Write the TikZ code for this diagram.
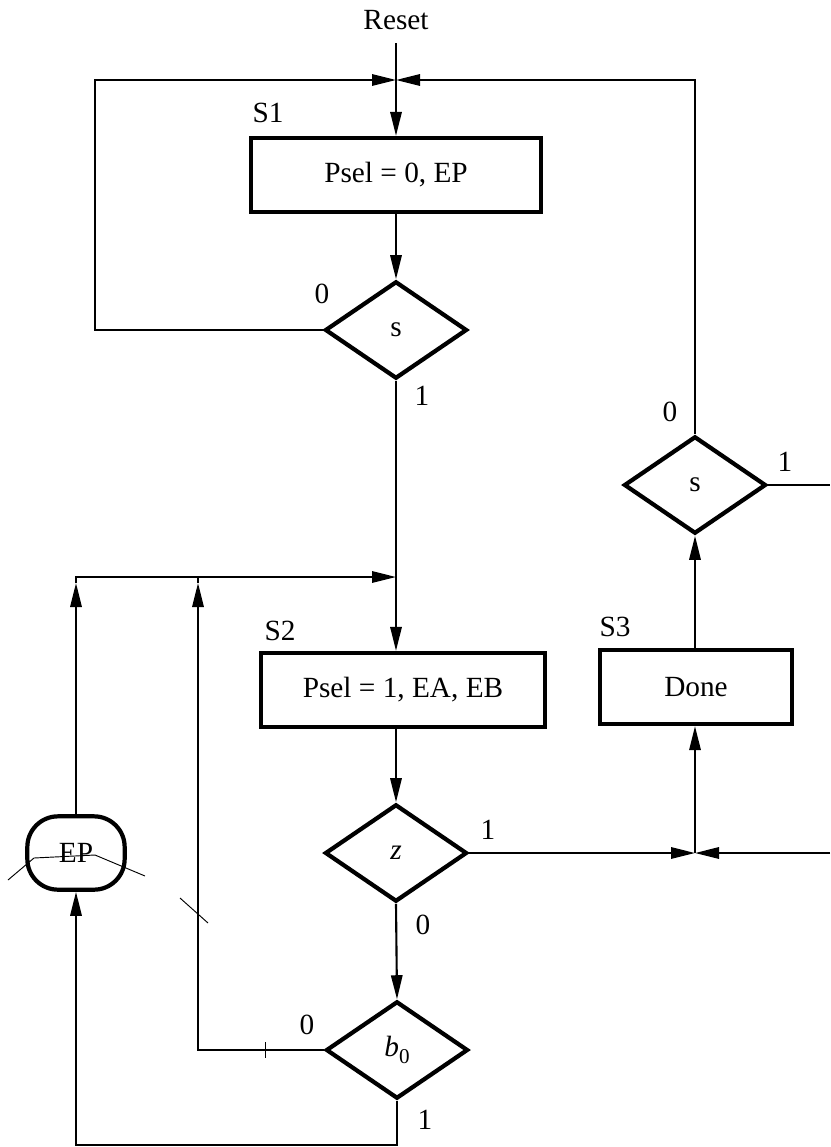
\documentclass[tikz,border=0pt]{standalone}
\usepackage{fontspec}
\setmainfont{Liberation Serif}
\usepackage{tikz}
\usetikzlibrary{arrows.meta,shapes.geometric,positioning,calc}

\begin{document}
\begin{tikzpicture}[
    x=0.15mm, y=-0.15mm,
    font=\fontsize{12.5}{14}\selectfont,
    box/.style={rectangle, draw, line width=1.8pt, minimum height=11.1mm, align=center, inner sep=0pt},
    decision/.style={diamond, draw, line width=1.8pt, minimum width=21.3mm, minimum height=14.6mm, inner sep=0pt},
    oval/.style={rectangle, draw, line width=1.8pt, rounded corners=4.6mm, minimum width=14.6mm, minimum height=11mm, inner sep=0pt},
    arrow/.style={-{Triangle[length=3.6mm,width=1.7mm]}, line width=0.9pt},
    line/.style={line width=0.9pt},
    lbl/.style={inner sep=0pt}
]
    \useasboundingbox (0,0) rectangle (830,1147);

    % States
    \node[lbl] (reset) at (396,20) {Reset};
    \node[box, minimum width=43.4mm] (s1box) at (396,175) {Psel = 0, EP};
    \node[decision] (test1) at (396,330) {s};
    \node[box, minimum width=42.6mm] (s2box) at (403,690) {Psel = 1, EA, EB};
    \node[decision] (ztest) at (396,853) {\textit{z}};
    \node[decision] (btest) at (397,1050) {\textit{b}\raisebox{-0.5ex}{\small 0}};
    \node[box, minimum width=28.7mm] (s3box) at (696,687) {Done};
    \node[decision] (test3) at (695,485) {s};
    \node[oval] (ep) at (76,853) {EP};

    % State names
    \node[lbl] at (268,113) {S1};
    \node[lbl] at (280,631) {S2};
    \node[lbl] at (615,627) {S3};

    % Branch values
    \node[lbl] at (322,294) {0};
    \node[lbl] at (422,396) {1};
    \node[lbl] at (670,412) {0};
    \node[lbl] at (785,462) {1};
    \node[lbl] at (488,830) {1};
    \node[lbl] at (423,925) {0};
    \node[lbl] at (307,1025) {0};
    \node[lbl] at (425,1120) {1};

    % Junctions
    \coordinate (jtop) at (396,80);
    \coordinate (jmid) at (396,577);
    \coordinate (jright) at (695,853);
    \coordinate (leftTop) at (95,80);
    \coordinate (epCorner) at (76,577);
    \coordinate (epArr) at (76,583);
    \coordinate (bCorner) at (198,577);
    \coordinate (bArr) at (198,583);
    \coordinate (bBot) at (397,1145);
    \coordinate (rightA) at (830,485);
    \coordinate (rightB) at (830,853);

    % Arrows
    \draw[arrow] (reset.south |- 0,43) -- (s1box.north);
    \draw[arrow] (s1box.south) -- (test1.north);
    \draw[arrow] (test1.west) -| (leftTop) -- (jtop);
    \draw[line] (test1.south) -- (jmid);
    \draw[arrow] (jmid) -- (jmid |- s2box.north);
    \draw[arrow] (jmid |- s2box.south) -- (ztest.north);
    \draw[arrow] (ztest.south) -- (btest.north);
    \draw[arrow] (ztest.east) -- (jright);
    \draw[arrow] (rightB) -- (jright);
    \draw[arrow] (jright) -- (jright |- s3box.south);
    \draw[arrow] (jright |- s3box.north) -- (test3.south);
    \draw[arrow] (test3.north) |- (jtop);
    \draw[line] (test3.east) -- (rightA);
    \draw[arrow] (btest.west) -| (bArr);
    \draw[line] (bArr) -- (bCorner);
    \draw[arrow] (btest.south) -- (bBot) -| (ep.south);
    \draw[arrow] (ep.north) -- (epArr);
    \draw[arrow] (epArr) -- (epCorner) -- (jmid);

    % Marks on the scan
    \draw[line width=0.4pt] (8,880) -- (34,858) -- (95,855) -- (145,876);
    \draw[line width=0.4pt] (180,898) -- (208,923);
    \draw[line width=0.4pt] (265,1042) -- (265,1058);
\end{tikzpicture}
\end{document}
